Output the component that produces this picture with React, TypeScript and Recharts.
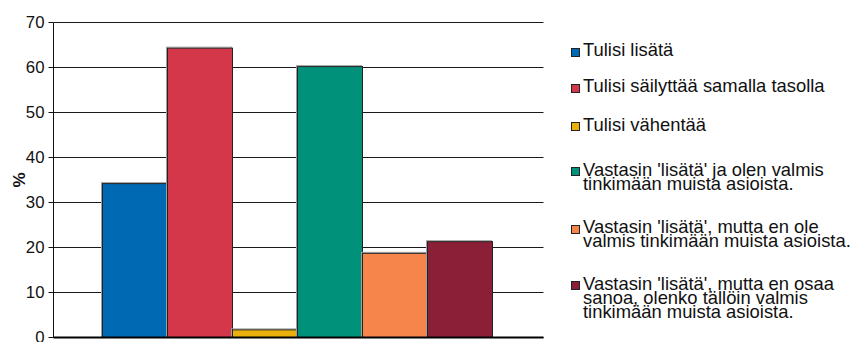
import React from 'react';
import { BarChart, Bar, XAxis, YAxis, CartesianGrid, ReferenceLine } from 'recharts';

const categories = [''];
const seriesKeys = ['s0', 's1', 's2', 's3', 's4', 's5'];
const seriesValues = [34.2, 64.3, 1.7, 60.2, 18.7, 21.3];
const seriesLabelLines = [
  ['Tulisi lisätä'],
  ['Tulisi säilyttää samalla tasolla'],
  ['Tulisi vähentää'],
  ["Vastasin 'lisätä' ja olen valmis", 'tinkimään muista asioista.'],
  ["Vastasin 'lisätä', mutta en ole", 'valmis tinkimään muista asioista.'],
  ["Vastasin 'lisätä', mutta en osaa", 'sanoa, olenko tällöin valmis', 'tinkimään muista asioista.'],
];
const seriesColors = ['#0069b4', '#d5374a', '#eab10d', '#00917b', '#f5854a', '#8a1f37'];
const yTicks = [0, 10, 20, 30, 40, 50, 60, 70];
const yLabel = '%';

const data = categories.map((name) => {
  const row: Record<string, string | number> = { name };
  seriesKeys.forEach((k, i) => {
    row[k] = seriesValues[i];
  });
  return row;
});

const FONT = '"Liberation Sans", Arial, sans-serif';
const LEGEND_BASELINES = [56.3, 92.5, 131, 176, 233.3, 290];
const LINE_H = 14.2;

const BarShape = (props: any) => {
  const { x, y, width, height, fill } = props;
  if (height == null || width == null) return null;
  return (
    <g>
      <rect x={x - 1} y={y - 1} width={width} height={height} fill="none" stroke="#a0a0a0" strokeWidth={1} />
      <rect x={x} y={y} width={width} height={height} fill={fill} stroke="#222" strokeWidth={1} />
    </g>
  );
};

const YLabel = (props: any) => {
  const vb = props.viewBox || {};
  const cx = 19;
  const cy = (vb.y ?? 0) + (vb.height ?? 0) / 2;
  return (
    <text
      x={cx}
      y={cy}
      transform={`rotate(-90, ${cx}, ${cy})`}
      textAnchor="middle"
      dominantBaseline="central"
      fontFamily={FONT}
      fontSize={17}
      fontWeight="bold"
      fill="#111"
    >
      {yLabel}
    </text>
  );
};

export default function App() {
  return (
    <div style={{ position: 'absolute', left: 0, top: 0, width: 855, height: 342, background: '#fff', fontFamily: FONT }}>
      <BarChart
        width={855}
        height={342}
        data={data}
        margin={{ top: 22.5, right: 311.5, bottom: 4.5, left: 0 }}
        barCategoryGap="10%"
        barGap={0}
      >
        <CartesianGrid yAxisId="left" vertical={false} stroke="#1a1a1a" strokeWidth={1} strokeOpacity={1} />
        <XAxis dataKey="name" type="category" hide />
        <YAxis
          yAxisId="left"
          width={53.5}
          domain={[0, 70]}
          ticks={yTicks}
          interval={0}
          tickSize={5}
          tickMargin={4}
          axisLine={{ stroke: '#111', strokeWidth: 1 }}
          tickLine={{ stroke: '#111', strokeWidth: 1 }}
          tick={{ fill: '#111', fontSize: 16.8, fontFamily: FONT }}
          label={<YLabel />}
        />
        <YAxis
          yAxisId="right"
          orientation="right"
          width={0}
          domain={[0, 70]}
          tick={false}
          tickLine={false}
          axisLine={{ stroke: '#111', strokeWidth: 1 }}
        />
        {seriesKeys.map((k, i) => (
          <Bar
            key={k}
            yAxisId="left"
            dataKey={k}
            fill={seriesColors[i]}
            isAnimationActive={false}
            shape={<BarShape />}
          />
        ))}
        <ReferenceLine yAxisId="left" y={0} stroke="#000" strokeWidth={2} />
      </BarChart>
      {seriesLabelLines.map((lines, i) => (
        <div
          key={i}
          style={{
            position: 'absolute',
            left: 571,
            top: LEGEND_BASELINES[i] - 13.4,
            fontSize: 18.4,
            lineHeight: `${LINE_H}px`,
            color: '#111',
            whiteSpace: 'nowrap',
          }}
        >
          <span
            style={{
              position: 'absolute',
              left: 0,
              top: 13.4 - 8.5,
              width: 7,
              height: 7,
              background: seriesColors[i],
              border: '1px solid #222',
            }}
          />
          <div style={{ marginLeft: 12 }}>
            {lines.map((ln, j) => (
              <div key={j}>{ln}</div>
            ))}
          </div>
        </div>
      ))}
    </div>
  );
}
